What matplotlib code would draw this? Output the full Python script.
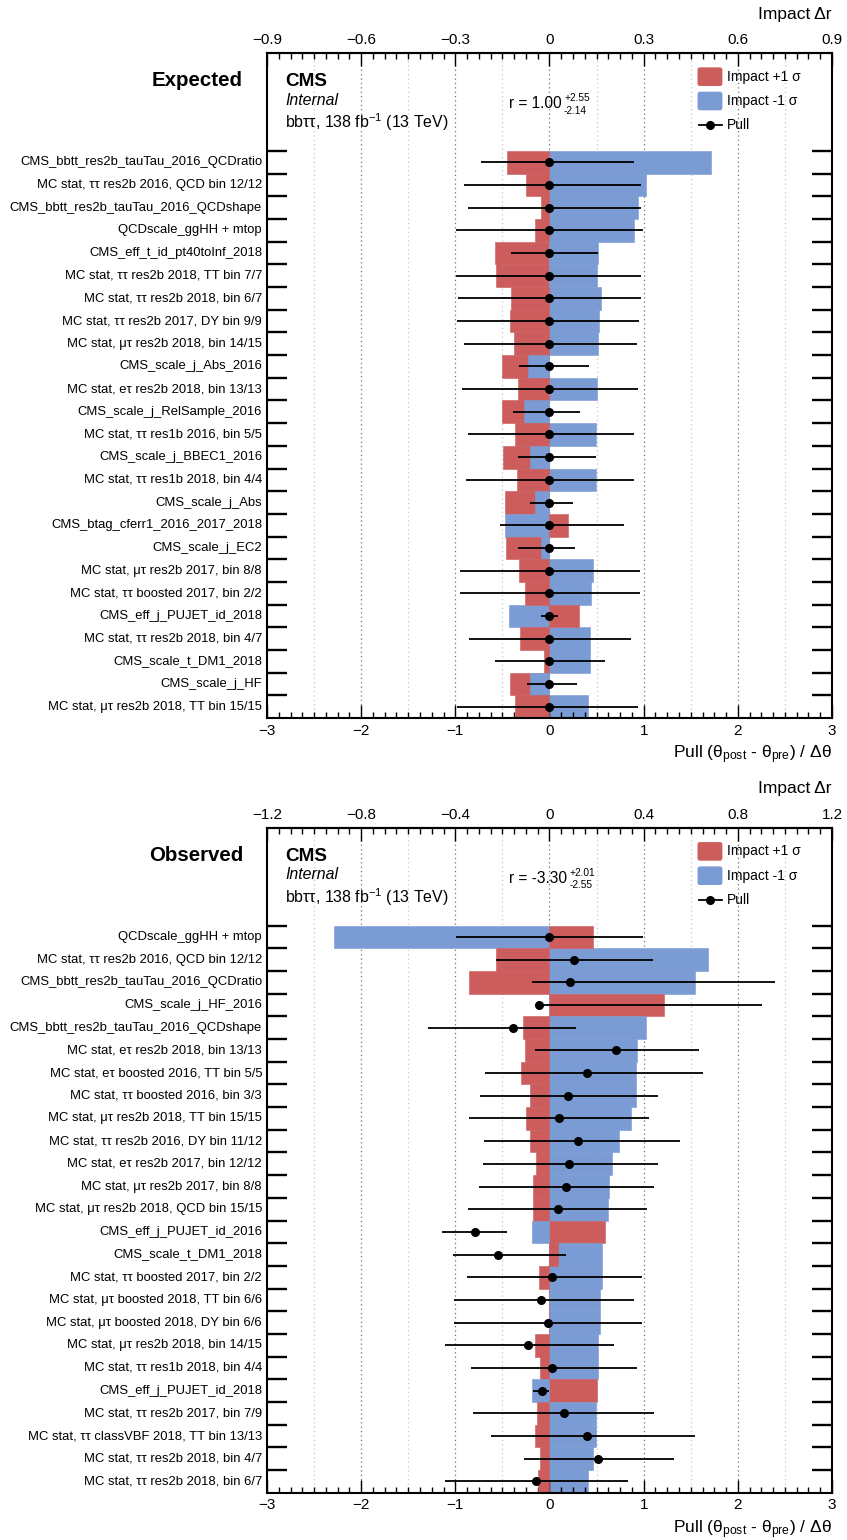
"""
Pulls and impacts, bbtautau combination: expected (top) and observed (bottom).
Saved to out.png
"""

import numpy as np
import matplotlib
matplotlib.use("Agg")
import matplotlib.pyplot as plt
import matplotlib.transforms as mtransforms
from matplotlib.patches import FancyBboxPatch
from matplotlib.ticker import MultipleLocator, FuncFormatter

plt.rcParams["font.family"] = ["Liberation Sans", "DejaVu Sans"]
plt.rcParams["mathtext.fontset"] = "custom"
plt.rcParams["mathtext.rm"] = "Liberation Sans"
plt.rcParams["mathtext.it"] = "Liberation Sans:italic"
plt.rcParams["mathtext.bf"] = "Liberation Sans:bold"

RED  = "#CD5C5C"
BLUE = "#7B9BD4"

# EXPECTED

exp_params = [
    "CMS_bbtt_res2b_tauTau_2016_QCDratio",
    "MC stat, ττ res2b 2016, QCD bin 12/12",
    "CMS_bbtt_res2b_tauTau_2016_QCDshape",
    "QCDscale_ggHH + mtop",
    "CMS_eff_t_id_pt40toInf_2018",
    "MC stat, ττ res2b 2018, TT bin 7/7",
    "MC stat, ττ res2b 2018, bin 6/7",
    "MC stat, ττ res2b 2017, DY bin 9/9",
    "MC stat, μτ res2b 2018, bin 14/15",
    "CMS_scale_j_Abs_2016",
    "MC stat, eτ res2b 2018, bin 13/13",
    "CMS_scale_j_RelSample_2016",
    "MC stat, ττ res1b 2016, bin 5/5",
    "CMS_scale_j_BBEC1_2016",
    "MC stat, ττ res1b 2018, bin 4/4",
    "CMS_scale_j_Abs",
    "CMS_btag_cferr1_2016_2017_2018",
    "CMS_scale_j_EC2",
    "MC stat, μτ res2b 2017, bin 8/8",
    "MC stat, ττ boosted 2017, bin 2/2",
    "CMS_eff_j_PUJET_id_2018",
    "MC stat, ττ res2b 2018, bin 4/7",
    "CMS_scale_t_DM1_2018",
    "CMS_scale_j_HF",
    "MC stat, μτ res2b 2018, TT bin 15/15",
]
# impact on r for +1 sigma (red) and -1 sigma (blue)
exp_imp_up = [-0.135, -0.075, -0.027, -0.045, -0.174, -0.171, -0.123, -0.126, -0.114, -0.150,
              -0.099, -0.150, -0.111, -0.147, -0.105, -0.141,  0.060, -0.138, -0.096, -0.078,
               0.093, -0.093, -0.018, -0.126, -0.111]
exp_imp_dn = [ 0.513,  0.309,  0.282,  0.270,  0.156,  0.150,  0.165,  0.159,  0.153, -0.069,
               0.150, -0.081,  0.147, -0.063,  0.147, -0.045, -0.141, -0.027,  0.138,  0.132,
              -0.129,  0.129,  0.129, -0.063,  0.123]
exp_pull    = [0.00, 0.00, 0.00, 0.00, 0.00, 0.00, 0.00, 0.00, 0.00, 0.00,
               0.00, 0.00, 0.00, 0.00, 0.00, 0.00, 0.00, 0.00, 0.00, 0.00,
               0.00, 0.00, 0.00, 0.00, 0.00]
exp_pull_lo = [-0.73, -0.91, -0.87, -0.99, -0.41, -0.99, -0.97, -0.98, -0.91, -0.32,
               -0.93, -0.39, -0.87, -0.33, -0.89, -0.21, -0.53, -0.33, -0.95, -0.95,
               -0.09, -0.85, -0.58, -0.24, -0.98]
exp_pull_hi = [ 0.90,  0.97,  0.97,  0.99,  0.52,  0.97,  0.97,  0.95,  0.93,  0.42,
                0.94,  0.32,  0.90,  0.49,  0.90,  0.25,  0.79,  0.27,  0.96,  0.96,
                0.09,  0.87,  0.59,  0.29,  0.94]

# OBSERVED

obs_params = [
    "QCDscale_ggHH + mtop",
    "MC stat, ττ res2b 2016, QCD bin 12/12",
    "CMS_bbtt_res2b_tauTau_2016_QCDratio",
    "CMS_scale_j_HF_2016",
    "CMS_bbtt_res2b_tauTau_2016_QCDshape",
    "MC stat, eτ res2b 2018, bin 13/13",
    "MC stat, eτ boosted 2016, TT bin 5/5",
    "MC stat, ττ boosted 2016, bin 3/3",
    "MC stat, μτ res2b 2018, TT bin 15/15",
    "MC stat, ττ res2b 2016, DY bin 11/12",
    "MC stat, eτ res2b 2017, bin 12/12",
    "MC stat, μτ res2b 2017, bin 8/8",
    "MC stat, μτ res2b 2018, QCD bin 15/15",
    "CMS_eff_j_PUJET_id_2016",
    "CMS_scale_t_DM1_2018",
    "MC stat, ττ boosted 2017, bin 2/2",
    "MC stat, μτ boosted 2018, TT bin 6/6",
    "MC stat, μτ boosted 2018, DY bin 6/6",
    "MC stat, μτ res2b 2018, bin 14/15",
    "MC stat, ττ res1b 2018, bin 4/4",
    "CMS_eff_j_PUJET_id_2018",
    "MC stat, ττ res2b 2017, bin 7/9",
    "MC stat, ττ classVBF 2018, TT bin 13/13",
    "MC stat, ττ res2b 2018, bin 4/7",
    "MC stat, ττ res2b 2018, bin 6/7",
]
obs_imp_up = [ 0.184, -0.228, -0.340,  0.488, -0.112, -0.104, -0.120, -0.084, -0.100, -0.084,
              -0.056, -0.068, -0.068,  0.236,  0.036, -0.044, -0.004, -0.004, -0.060, -0.040,
               0.200, -0.052, -0.060, -0.040, -0.048]
obs_imp_dn = [-0.916,  0.672,  0.620, -0.004,  0.412,  0.372,  0.368,  0.368,  0.348,  0.296,
               0.264,  0.252,  0.248, -0.076,  0.224,  0.224,  0.216,  0.216,  0.208,  0.204,
              -0.076,  0.196,  0.196,  0.184,  0.164]
obs_pull    = [ 0.00,  0.26,  0.22, -0.11, -0.39,  0.71,  0.40,  0.20,  0.10,  0.30,
                0.21,  0.17,  0.09, -0.79, -0.55,  0.03, -0.09, -0.02, -0.23,  0.03,
               -0.08,  0.15,  0.40,  0.51, -0.14]
obs_pull_lo = [-0.99, -0.57, -0.19, -0.12, -1.29, -0.15, -0.68, -0.74, -0.85, -0.70,
               -0.71, -0.75, -0.87, -1.14, -1.02, -0.88, -1.01, -1.01, -1.11, -0.83,
               -0.17, -0.81, -0.62, -0.27, -1.11]
obs_pull_hi = [ 0.99,  1.10,  2.39,  2.26,  0.28,  1.59,  1.63,  1.15,  1.06,  1.39,
                1.15,  1.11,  1.04, -0.45,  0.18,  0.98,  0.90,  0.98,  0.68,  0.93,
                0.00,  1.11,  1.54,  1.32,  0.83]


def fmt_impact(v, _):
    if abs(v) < 1e-9:
        return "0"
    return f"{v:.1f}".replace("-", "\u2212")


def draw_panel(ax, title, params, imp_up, imp_dn, pull, pull_lo, pull_hi,
               r_val, r_up, r_dn, scale):
    n  = len(params)
    y  = np.arange(n)[::-1]
    up = np.array(imp_up) / scale
    dn = np.array(imp_dn) / scale

    # grid
    for x in [-2.5, -1.5, -0.5, 0.5, 1.5, 2.5]:
        ax.axvline(x, color="#c8c8c8", ls=(0, (1, 2.5)), lw=0.9, zorder=0)
    for x in [-2, -1, 0, 1, 2]:
        ax.axvline(x, color="#707070", ls=(0, (1, 2.5)), lw=0.9, zorder=0)

    # smaller impact drawn on top of the larger one
    up_big  = np.abs(up) >= np.abs(dn)
    back_w  = np.where(up_big, up, dn)
    front_w = np.where(up_big, dn, up)
    back_c  = [RED if b else BLUE for b in up_big]
    front_c = [BLUE if b else RED for b in up_big]
    ax.barh(y, back_w,  height=1.0, color=back_c,  edgecolor=back_c,  lw=0.4, zorder=1)
    ax.barh(y, front_w, height=1.0, color=front_c, edgecolor=front_c, lw=0.4, zorder=2)

    # pulls
    ax.hlines(y, pull_lo, pull_hi, color="k", lw=1.3, zorder=3)
    ax.plot(pull, y, "o", color="k", ms=5.5, zorder=4)

    # labels
    trans = mtransforms.blended_transform_factory(ax.transAxes, ax.transData)
    for yi, name in zip(y, params):
        ax.text(-0.0088, yi, name, transform=trans, ha="right", va="center", fontsize=9.4)

    ax.set_xlim(-3, 3)
    ax.set_ylim(-0.5, n - 0.5 + 4.32)

    ax.set_yticks(np.arange(n) + 0.5)
    ax.tick_params(axis="y", which="major", direction="in", length=14.4, width=1.7,
                   left=True, right=True, labelleft=False)
    ax.xaxis.set_major_locator(MultipleLocator(1))
    ax.xaxis.set_minor_locator(MultipleLocator(0.125))
    ax.tick_params(axis="x", which="major", direction="in", length=9.5, width=1.0,
                   top=False, labelsize=11, pad=4)
    ax.tick_params(axis="x", which="minor", direction="in", length=4.5, width=1.0, top=False)
    for s in ax.spines.values():
        s.set_linewidth(1.5)

    sec = ax.secondary_xaxis("top", functions=(lambda p: p * scale, lambda r: r / scale))
    sec.set_xticks(np.linspace(-3 * scale, 3 * scale, 7))
    sec.xaxis.set_minor_locator(MultipleLocator(scale / 8))
    sec.xaxis.set_major_formatter(FuncFormatter(fmt_impact))
    sec.tick_params(axis="x", which="major", direction="in", length=9.5, width=1.0,
                    labelsize=11, pad=4)
    sec.tick_params(axis="x", which="minor", direction="in", length=4.5, width=1.0)
    sec.spines["top"].set_linewidth(1.5)

    ax.text(1.0, 1.0586, "Impact Δr", transform=ax.transAxes, ha="right", va="center",
            fontsize=12.5)
    ax.text(1.0, -0.0556, r"Pull (θ$_{\mathrm{post}}$ - θ$_{\mathrm{pre}}$) / Δθ",
            transform=ax.transAxes, ha="right", va="center", fontsize=12.5)

    # header
    ax.text(-0.0425, 0.958, title, transform=ax.transAxes, ha="right", va="center",
            fontsize=14.8, fontweight="bold")
    ax.text(0.0319, 0.9571, "CMS", transform=ax.transAxes, va="center",
            fontsize=13.6, fontweight="bold")
    ax.text(0.0319, 0.9293, "Internal", transform=ax.transAxes, va="center",
            fontsize=11.4, style="italic")
    ax.text(0.0319, 0.8962, r"bbττ, 138 fb$^{-1}$ (13 TeV)", transform=ax.transAxes,
            va="center", fontsize=11.4)
    t = ax.text(0.4283, 0.9233, f"r = {r_val}", transform=ax.transAxes, va="center",
                fontsize=11.2)
    ax.annotate(r_up, xy=(1, 0.5), xycoords=t, xytext=(2.0, 4.4), textcoords="offset points",
                va="center", ha="left", fontsize=7.3)
    ax.annotate(r_dn, xy=(1, 0.5), xycoords=t, xytext=(1.5, -4.8), textcoords="offset points",
                va="center", ha="left", fontsize=7.3)

    # legend
    for yb, col, lab in [(0.9504, RED, "Impact +1 σ"), (0.9138, BLUE, "Impact -1 σ")]:
        ax.add_patch(FancyBboxPatch((0.762, yb), 0.044, 0.028,
                                    boxstyle="round,pad=0,rounding_size=0.004",
                                    transform=ax.transAxes, facecolor=col, edgecolor="none",
                                    zorder=5))
        ax.text(0.8142, yb + 0.014, lab, transform=ax.transAxes, va="center", fontsize=10)
    ax.plot([0.7646, 0.8053], [0.8917, 0.8917], color="k", lw=1.3, transform=ax.transAxes,
            zorder=5)
    ax.plot([0.784], [0.8917], "o", color="k", ms=5.5, transform=ax.transAxes, zorder=5)
    ax.text(0.8142, 0.8917, "Pull", transform=ax.transAxes, va="center", fontsize=10)

    ax.set_xlim(-3, 3)
    ax.set_ylim(-0.5, n - 0.5 + 4.32)


def run():
    fig = plt.figure(figsize=(8.47, 15.40), dpi=100)
    ax_top = fig.add_axes([0.31523, 0.53377, 0.66706, 0.43182])
    ax_bot = fig.add_axes([0.31523, 0.03071, 0.66706, 0.43182])

    draw_panel(ax_top, "Expected", exp_params, exp_imp_up, exp_imp_dn,
               exp_pull, exp_pull_lo, exp_pull_hi, "1.00", "+2.55", "-2.14", 0.3)
    draw_panel(ax_bot, "Observed", obs_params, obs_imp_up, obs_imp_dn,
               obs_pull, obs_pull_lo, obs_pull_hi, "-3.30", "+2.01", "-2.55", 0.4)

    fig.savefig("out.png", dpi=100)
    plt.close(fig)


if __name__ == "__main__":
    run()
